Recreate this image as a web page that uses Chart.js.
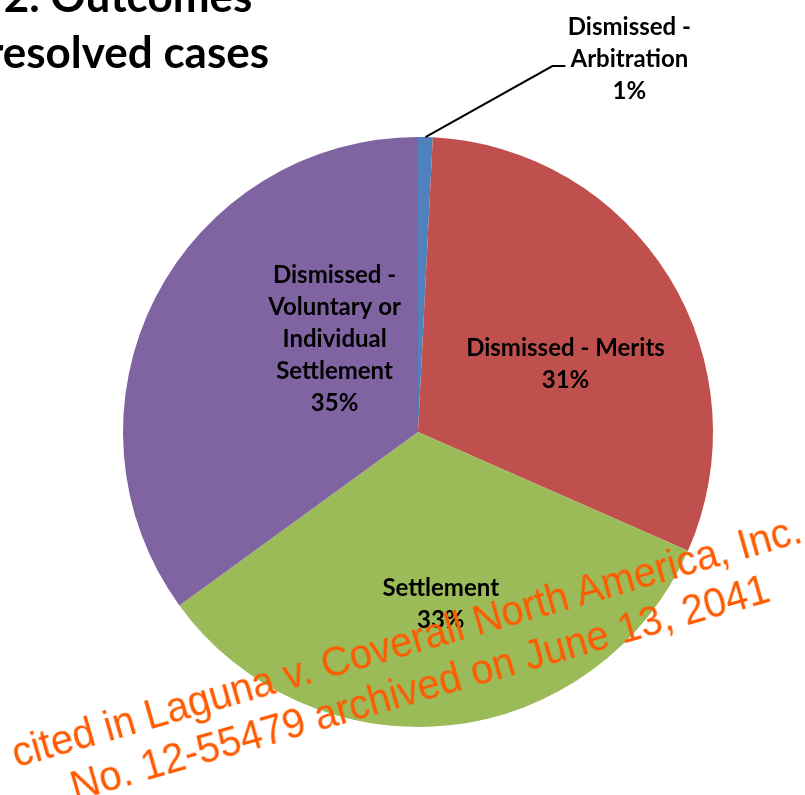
<!DOCTYPE html>
<html>
<head>
<meta charset="utf-8">
<script src="https://cdn.jsdelivr.net/npm/chart.js@4.4.0/dist/chart.umd.min.js"></script>
<style>
  html, body { margin: 0; padding: 0; background: #fff; overflow: hidden; }
  #wrap { position: relative; width: 805px; height: 795px; overflow: hidden; }
  #title {
    position: absolute; left: -72px; top: -33px; width: 400px;
    text-align: center; font: bold 44px Lato, sans-serif; line-height: 56px; color: #000;
  }
  #stamp {
    position: absolute; left: 0; top: 0; width: 900px; text-align: center;
    font: 40px "Liberation Sans", Arial, sans-serif; line-height: 45px; color: #ff5a00;
    transform-origin: 450px 45px; white-space: nowrap;
  }
</style>
</head>
<body>
<div id="wrap">
  <canvas id="pieChart" width="805" height="795"></canvas>
  <div id="title">2. Outcomes<br>resolved cases</div>
  <div id="stamp">cited in Laguna v. Coverall North America, Inc.<br>No. 12-55479 archived on June 13, 2041</div>
</div>
<script>
// Outcomes of resolved cases (share of cases, %)
const categories = ['Dismissed - Arbitration', 'Dismissed - Merits', 'Settlement', 'Dismissed - Voluntary or Individual Settlement'];
const shares = [0.8, 30.8, 33.4, 35.0];
const labelLines = [
  ['Dismissed -', 'Arbitration'],
  ['Dismissed - Merits'],
  ['Settlement'],
  ['Dismissed -', 'Voluntary or', 'Individual', 'Settlement']
];
const colors = ['#4f81bd', '#c0504d', '#9bbb59', '#8064a2'];

// label nudges from each arc's mid point (Excel puts them a bit off-centre)
const labelNudge = [null, [22, 10], [7, 26], [48, -26]];

const sliceLabels = {
  id: 'sliceLabels',
  afterDatasetsDraw(chart) {
    const ctx = chart.ctx;
    const meta = chart.getDatasetMeta(0);
    const total = shares.reduce((a, b) => a + b, 0);
    const lineH = 32;
    ctx.save();
    ctx.fillStyle = '#000';
    ctx.font = 'bold 24px Lato, sans-serif';
    ctx.textAlign = 'center';
    ctx.textBaseline = 'middle';
    meta.data.forEach((arc, i) => {
      const lines = labelLines[i].concat([Math.round(shares[i] / total * 100) + '%']);
      let cx, cy;
      if (labelNudge[i]) {
        const p = arc.tooltipPosition();
        cx = p.x + labelNudge[i][0];
        cy = p.y + labelNudge[i][1];
      } else {
        // outside label with leader line
        const mid = (arc.startAngle + arc.endAngle) / 2;
        const sx = arc.x + Math.cos(mid) * arc.outerRadius;
        const sy = arc.y + Math.sin(mid) * arc.outerRadius;
        const ex = sx + 127, ey = sy - 71;
        ctx.strokeStyle = '#000';
        ctx.lineWidth = 2;
        ctx.beginPath();
        ctx.moveTo(sx, sy);
        ctx.lineTo(ex, ey);
        ctx.lineTo(ex + 13, ey);
        ctx.stroke();
        cx = ex + 77;
        cy = ey - 7;
      }
      const y0 = cy - (lines.length - 1) * lineH / 2;
      lines.forEach((t, k) => ctx.fillText(t, cx, y0 + k * lineH));
    });
    ctx.restore();
  }
};

new Chart(document.getElementById('pieChart'), {
  type: 'pie',
  data: {
    labels: categories,
    datasets: [{
      data: shares,
      backgroundColor: colors,
      borderWidth: 0
    }]
  },
  options: {
    responsive: false,
    animation: false,
    layout: { padding: { left: 123, right: 92, top: 137, bottom: 68 } },
    plugins: {
      legend: { display: false },
      tooltip: { enabled: false }
    }
  },
  plugins: [sliceLabels]
});

// watermark: rotate around the middle of its two lines
const stamp = document.getElementById('stamp');
stamp.style.left = (413 - 450) + 'px';
stamp.style.top = (664 - 45) + 'px';
stamp.style.transform = 'rotate(-16deg) scale(1, 1.08)';
</script>
</body>
</html>
